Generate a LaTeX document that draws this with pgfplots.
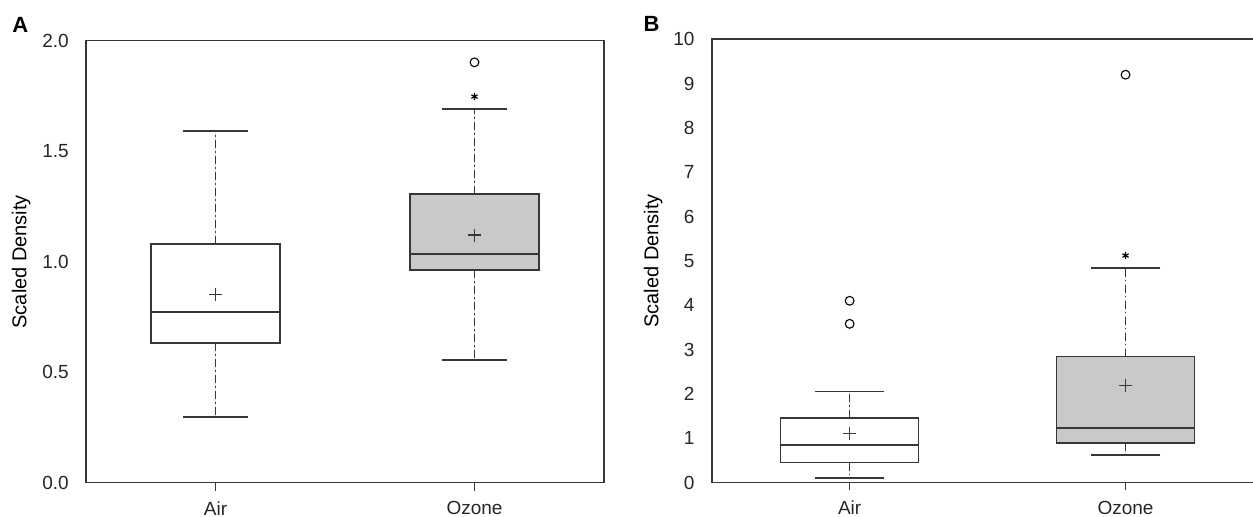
\documentclass[border=0pt]{standalone}
\usepackage{fontspec}
\setmainfont{Liberation Sans}
\usepackage{pgfplots}
\pgfplotsset{compat=1.18}
\usepgfplotslibrary{statistics}
\definecolor{boxgray}{RGB}{200,201,203}
\definecolor{linec}{RGB}{55,55,55}
\pgfplotsset{
  boxplot/draw/lower whisker/.code={%
    \draw[linec, line width=0.6pt, dash pattern=on 4pt off 1.6pt on 0.8pt off 1.6pt]
      (boxplot box cs:\pgfplotsboxplotvalue{lower quartile},0.5) -- (boxplot box cs:\pgfplotsboxplotvalue{lower whisker},0.5);
    \draw[linec, line width=0.8pt, solid]
      (boxplot whisker cs:\pgfplotsboxplotvalue{lower whisker},0) -- (boxplot whisker cs:\pgfplotsboxplotvalue{lower whisker},1);
  },
  boxplot/draw/upper whisker/.code={%
    \draw[linec, line width=0.6pt, dash pattern=on 4pt off 1.6pt on 0.8pt off 1.6pt]
      (boxplot box cs:\pgfplotsboxplotvalue{upper quartile},0.5) -- (boxplot box cs:\pgfplotsboxplotvalue{upper whisker},0.5);
    \draw[linec, line width=0.8pt, solid]
      (boxplot whisker cs:\pgfplotsboxplotvalue{upper whisker},0) -- (boxplot whisker cs:\pgfplotsboxplotvalue{upper whisker},1);
  },
  boxplot/draw/median/.code={%
    \draw[linec, line width=0.9pt, solid]
      (boxplot box cs:\pgfplotsboxplotvalue{median},0) -- (boxplot box cs:\pgfplotsboxplotvalue{median},1);
  },
  myaxis/.style={
    scale only axis,
    anchor=south west,
    xmin=0.5, xmax=2.5,
    xtick={1,2}, xticklabels={Air,Ozone},
    tick align=outside,
    major tick length=4pt,
    xtick pos=left, ytick pos=left,
    ytick style={draw=none},
    xtick style={linec, line width=0.7pt},
    axis line style={linec, line width=0.8pt},
    ylabel={Scaled Density},
    tick label style={font=\fontsize{9.5}{11}\selectfont, text=black!85},
    label style={font=\fontsize{9.5}{11}\selectfont, text=black!85},
    /pgf/number format/assume math mode=true,
    yticklabel style={xshift=-1.1pt},
    xticklabel style={yshift=-1.8pt},
    every axis y label/.style={at={(axis description cs:#1,0.5)}, rotate=90, anchor=center},
    boxplot/draw direction=y,
  },
  boxA/.style={boxplot prepared={#1, box extend=0.5, whisker extend=0.25}, draw=linec, line width=0.8pt, solid, mark=none},
  meanm/.style={only marks, mark=+, mark size=3.2pt, linec, line width=0.75pt},
}
\begin{document}
\begin{tikzpicture}
\useasboundingbox (0,0) rectangle (626.5pt,258.5pt);
% Panel A
\begin{axis}[myaxis=-0.125, at={(43pt,17.15pt)}, width=259pt, height=221pt,
  ymin=0, ymax=2, ytick={0,0.5,1,1.5,2},
  yticklabel style={/pgf/number format/.cd, fixed, fixed zerofill, precision=1}]
\addplot[boxA={draw position=1, lower whisker=0.296, lower quartile=0.633, median=0.771, upper quartile=1.081, upper whisker=1.591}, fill=white] coordinates {};
\addplot[boxA={draw position=2, lower whisker=0.555, lower quartile=0.962, median=1.033, upper quartile=1.306, upper whisker=1.692}, fill=boxgray] coordinates {};
\addplot[meanm] coordinates {(1,0.852) (2,1.12)};
\addplot[only marks, mark=o, mark size=2.2pt, black, line width=0.55pt] coordinates {(2,1.902)};
\addplot[only marks, mark=asterisk, mark size=1.8pt, black, line width=0.6pt] coordinates {(2,1.747)};
\end{axis}
% Panel B
\begin{axis}[myaxis=-0.106, at={(355.85pt,17.25pt)}, width=275.9pt, height=221.6pt,
  ymin=0, ymax=10, ytick={0,1,...,10}]
\addplot[boxA={draw position=1, lower whisker=0.108, lower quartile=0.447, median=0.853, upper quartile=1.45, upper whisker=2.05}, fill=white] coordinates {};
\addplot[boxA={draw position=2, lower whisker=0.62, lower quartile=0.885, median=1.237, upper quartile=2.84, upper whisker=4.835}, fill=boxgray] coordinates {};
\addplot[meanm] coordinates {(1,1.10) (2,2.185)};
\addplot[only marks, mark=o, mark size=2.2pt, black, line width=0.55pt] coordinates {(1,4.10) (1,3.58) (2,9.2)};
\addplot[only marks, mark=asterisk, mark size=1.8pt, black, line width=0.6pt] coordinates {(2,5.12)};
\end{axis}
\node[font=\bfseries\fontsize{11}{12}\selectfont] at (10.2pt,246pt) {A};
\node[font=\bfseries\fontsize{11}{12}\selectfont] at (325.8pt,246.5pt) {B};
\end{tikzpicture}
\end{document}
